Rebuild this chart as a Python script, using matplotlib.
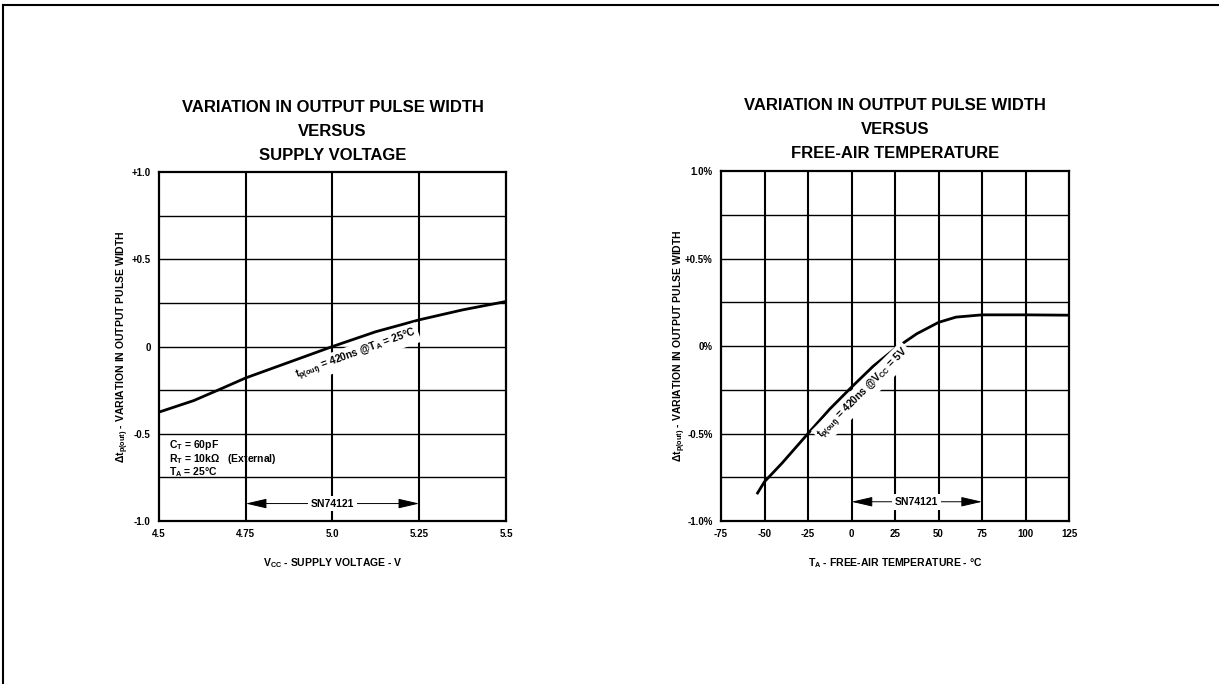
import matplotlib
matplotlib.use("Agg")
import matplotlib.pyplot as plt
from matplotlib.lines import Line2D

plt.rcParams['font.family'] = ['Liberation Sans', 'DejaVu Sans']
plt.rcParams['mathtext.default'] = 'regular'

# left chart: pulse width variation vs supply voltage
vcc = [4.5, 4.6, 4.67, 4.75, 4.875, 5.0, 5.125, 5.25, 5.375, 5.5]
dtp_vcc = [-0.376, -0.31, -0.25, -0.18, -0.09, 0.0, 0.085, 0.153, 0.21, 0.258]
vcc_ticks = [4.5, 4.75, 5.0, 5.25, 5.5]
vcc_ticklabels = ["4.5", "4.75", "5.0", "5.25", "5.5"]
left_yticks = [-1.0, -0.5, 0.0, 0.5, 1.0]
left_yticklabels = ["-1.0", "-0.5", "0", "+0.5", "+1.0"]

# right chart: pulse width variation vs free-air temperature
temp = [-54, -50, -40, -25, -12.5, 0, 12.5, 25, 37.5, 50, 60, 75, 100, 125]
dtp_temp = [-0.84, -0.775, -0.67, -0.50, -0.36, -0.235, -0.115, -0.015,
            0.07, 0.135, 0.165, 0.178, 0.178, 0.176]
temp_ticks = [-75, -50, -25, 0, 25, 50, 75, 100, 125]
right_yticks = [-1.0, -0.5, 0.0, 0.5, 1.0]
right_yticklabels = ["-1.0%", "-0.5%", "0%", "+0.5%", "1.0%"]

grid_y = [-0.75, -0.5, -0.25, 0.0, 0.25, 0.5, 0.75]
ylab = r'$\Delta$t$_{p(out)}$ - VARIATION IN OUTPUT PULSE WIDTH'

fig = plt.figure(figsize=(12.19, 6.84), dpi=100)
ax1 = fig.add_axes([0.1304, 0.2383, 0.2847, 0.5102])
ax2 = fig.add_axes([0.5915, 0.2383, 0.2855, 0.5117])

# page frame (top and left edges only)
fig.add_artist(Line2D([0.0025, 1.0], [0.9927, 0.9927], color='black', lw=1.5))
fig.add_artist(Line2D([0.0025, 0.0025], [0.0, 0.9927], color='black', lw=1.5))


def style(ax, xlim, xticks, xticklabels, yticklabels, vgrid):
    ax.set_xlim(*xlim)
    ax.set_ylim(-1.0, 1.0)
    for g in vgrid:
        ax.axvline(g, color='black', lw=1.5, zorder=1)
    for g in grid_y:
        ax.axhline(g, color='black', lw=1.0, zorder=1)
    ax.set_xticks(xticks)
    ax.set_xticklabels(xticklabels, fontsize=7, fontweight='bold')
    ax.set_yticks(right_yticks)
    ax.set_yticklabels(yticklabels, fontsize=7, fontweight='bold')
    ax.tick_params(length=0, pad=6)
    for s in ax.spines.values():
        s.set_linewidth(1.6)


style(ax1, (4.5, 5.5), vcc_ticks, vcc_ticklabels, left_yticklabels, [4.75, 5.0, 5.25])
style(ax2, (-75, 125), temp_ticks, [str(t) for t in temp_ticks], right_yticklabels,
      [-50, -25, 0, 25, 50, 75, 100])

ax1.plot(vcc, dtp_vcc, color='black', lw=2.0, zorder=3)
ax2.plot(temp, dtp_temp, color='black', lw=2.0, zorder=3)

titles = ["VARIATION IN OUTPUT PULSE WIDTH\nVERSUS\nSUPPLY VOLTAGE",
          "VARIATION IN OUTPUT PULSE WIDTH\nVERSUS\nFREE-AIR TEMPERATURE"]
for ax, t in zip([ax1, ax2], titles):
    ax.set_title(t, fontsize=12, fontweight='bold', linespacing=1.75, pad=9)
ax1.set_ylabel(ylab, fontsize=7.5, fontweight='bold', labelpad=0)
ax2.set_ylabel(ylab, fontsize=7.5, fontweight='bold', labelpad=-2)

ax1.set_xlabel(r'V$_{CC}$ - SUPPLY VOLTAGE - V', fontsize=7.5, fontweight='bold', labelpad=12)
ax2.set_xlabel(r'T$_A$ - FREE-AIR TEMPERATURE - °C', fontsize=7.5, fontweight='bold', labelpad=12)

box = dict(facecolor='white', edgecolor='none', pad=1.5)

# curve labels
ax1.text(5.069, -0.045, r't$_{p(out)}$ = 420ns @T$_A$ = 25°C', rotation=20,
         ha='center', va='center', fontsize=7.5, fontweight='bold', bbox=box, zorder=4)
ax2.text(6.7, -0.27, r't$_{p(out)}$ = 420ns @V$_{CC}$ = 5V', rotation=45,
         ha='center', va='center', fontsize=7.5, fontweight='bold', bbox=box, zorder=4)

# test conditions
ax1.text(4.53, -0.567, r'C$_T$ = 60pF', fontsize=7.5, fontweight='bold', va='center', zorder=4)
ax1.text(4.53, -0.643, r'R$_T$ = 10kΩ   (External)', fontsize=7.5, fontweight='bold',
         va='center', zorder=4)
ax1.text(4.53, -0.72, r'T$_A$ = 25°C', fontsize=7.5, fontweight='bold', va='center', zorder=4)

# SN74121 range arrows
for ax, x0, x1, yv in [(ax1, 4.75, 5.25, -0.90), (ax2, 0, 75, -0.89)]:
    ax.annotate('', xy=(x0, yv), xytext=(x1, yv),
                arrowprops=dict(arrowstyle='<|-|>,head_length=1.3,head_width=0.3',
                                color='black', lw=0.7, shrinkA=0, shrinkB=0), zorder=4)
    ax.text((x0 + x1) / 2, yv, 'SN74121', ha='center', va='center', fontsize=7.5,
            fontweight='bold', bbox=dict(facecolor='white', edgecolor='none', pad=2), zorder=5)

fig.savefig('out.png', dpi=100, facecolor='white')
